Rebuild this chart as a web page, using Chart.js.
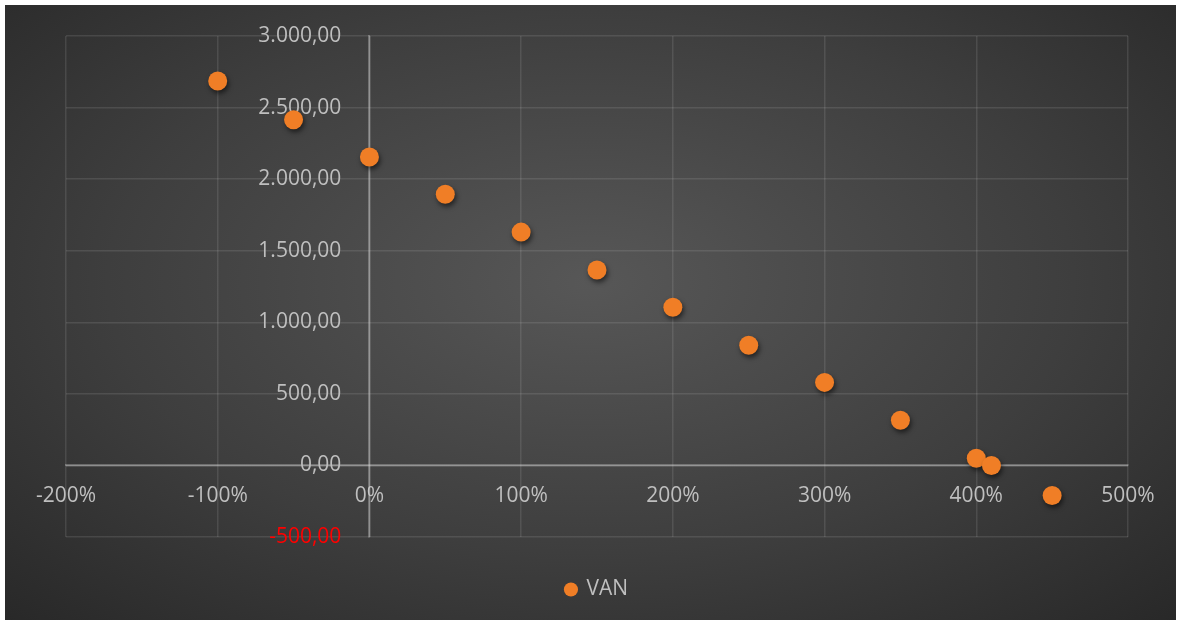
<!DOCTYPE html>
<html>
<head>
<meta charset="utf-8">
<script src="https://cdn.jsdelivr.net/npm/chart.js@4"></script>
<style>
  html, body { margin: 0; padding: 0; background: #ffffff; }
  #wrap {
    position: absolute; left: 5px; top: 5px; width: 1171px; height: 615px;
    background: radial-gradient(ellipse 75% 80% at 50% 45%, #575757 0%, #3e3e3e 55%, #262626 100%);
  }
  canvas { display: block; }
</style>
</head>
<body>
<div id="wrap"><canvas id="c" width="1171" height="615"></canvas></div>
<script>
// Discount rates (%) and VAN values
const rates = [-100, -50, 0, 50, 100, 150, 200, 250, 300, 350, 400, 410, 450];
const van   = [2685, 2415, 2155, 1895, 1630, 1365, 1105, 840, 580, 315, 50, 0, -210];
const seriesName = 'VAN';
const xTicks = [-200, -100, 0, 100, 200, 300, 400, 500];
const yTicks = [-500, 0, 500, 1000, 1500, 2000, 2500, 3000];

const fmtNum = v => {
  const s = Math.abs(v).toFixed(2).split('.');
  const int = s[0].replace(/\B(?=(\d{3})+(?!\d))/g, '.');
  return (v < 0 ? '-' : '') + int + ',' + s[1];
};

const gridColor = 'rgba(217,217,217,0.13)';
const axisColor = 'rgba(217,217,217,0.32)';
const labelColor = '#bfbfbf';
const FONT = '"Open Sans", "Noto Sans", sans-serif';
const FS = 21;

const shadowPlugin = {
  id: 'pointShadow',
  beforeDatasetsDraw(chart) {
    const ctx = chart.ctx;
    ctx.save();
    ctx.shadowColor = 'rgba(0,0,0,0.55)';
    ctx.shadowBlur = 5;
    ctx.shadowOffsetX = 1.5;
    ctx.shadowOffsetY = 3;
  },
  afterDatasetsDraw(chart) { chart.ctx.restore(); }
};

new Chart(document.getElementById('c'), {
  type: 'scatter',
  data: {
    datasets: [{
      label: seriesName,
      data: rates.map((r, i) => ({ x: r, y: van[i] })),
      backgroundColor: '#F07E26',
      borderColor: '#F07E26',
      borderWidth: 0,
      pointRadius: 9.5,
      pointHoverRadius: 9.5,
      yAxisID: 'y'
    }]
  },
  options: {
    responsive: false,
    animation: false,
    layout: { padding: { left: 61, right: 48, top: 31, bottom: 10 } },
    plugins: {
      tooltip: { enabled: false },
      legend: {
        position: 'bottom',
        labels: {
          usePointStyle: true,
          pointStyle: 'circle',
          boxWidth: 10,
          boxHeight: 10,
          color: labelColor,
          padding: 42,
          font: { family: FONT, size: FS }
        }
      }
    },
    scales: {
      x: {
        type: 'linear',
        position: { y: 0 },
        min: -200, max: 500,
        afterBuildTicks: s => { s.ticks = xTicks.map(v => ({ value: v })); },
        grid: {
          color: c => (c.tick && c.tick.value === 0) ? axisColor : gridColor,
          lineWidth: 1.5,
          drawTicks: false
        },
        border: { display: true, color: axisColor, width: 2 },
        ticks: {
          color: labelColor,
          padding: 18,
          maxRotation: 0,
          font: { family: FONT, size: FS },
          callback: v => v + '%'
        }
      },
      y: {
        type: 'linear',
        position: { x: 0 },
        min: -500, max: 3000,
        afterBuildTicks: s => { s.ticks = yTicks.map(v => ({ value: v })); },
        grid: {
          color: c => (c.tick && c.tick.value === 0) ? axisColor : gridColor,
          lineWidth: 1.5,
          drawTicks: false
        },
        border: { display: true, color: axisColor, width: 2 },
        ticks: { display: false }
      },
      yl: {
        type: 'linear',
        position: { x: -18.5 },
        min: -500, max: 3000,
        afterBuildTicks: s => { s.ticks = yTicks.map(v => ({ value: v })); },
        grid: { display: false, drawTicks: false },
        border: { display: false },
        ticks: {
          color: c => (c.tick && c.tick.value < 0) ? '#ff0000' : labelColor,
          font: { family: FONT, size: FS },
          callback: v => fmtNum(v)
        }
      }
    }
  },
  plugins: [shadowPlugin]
});
</script>
</body>
</html>
